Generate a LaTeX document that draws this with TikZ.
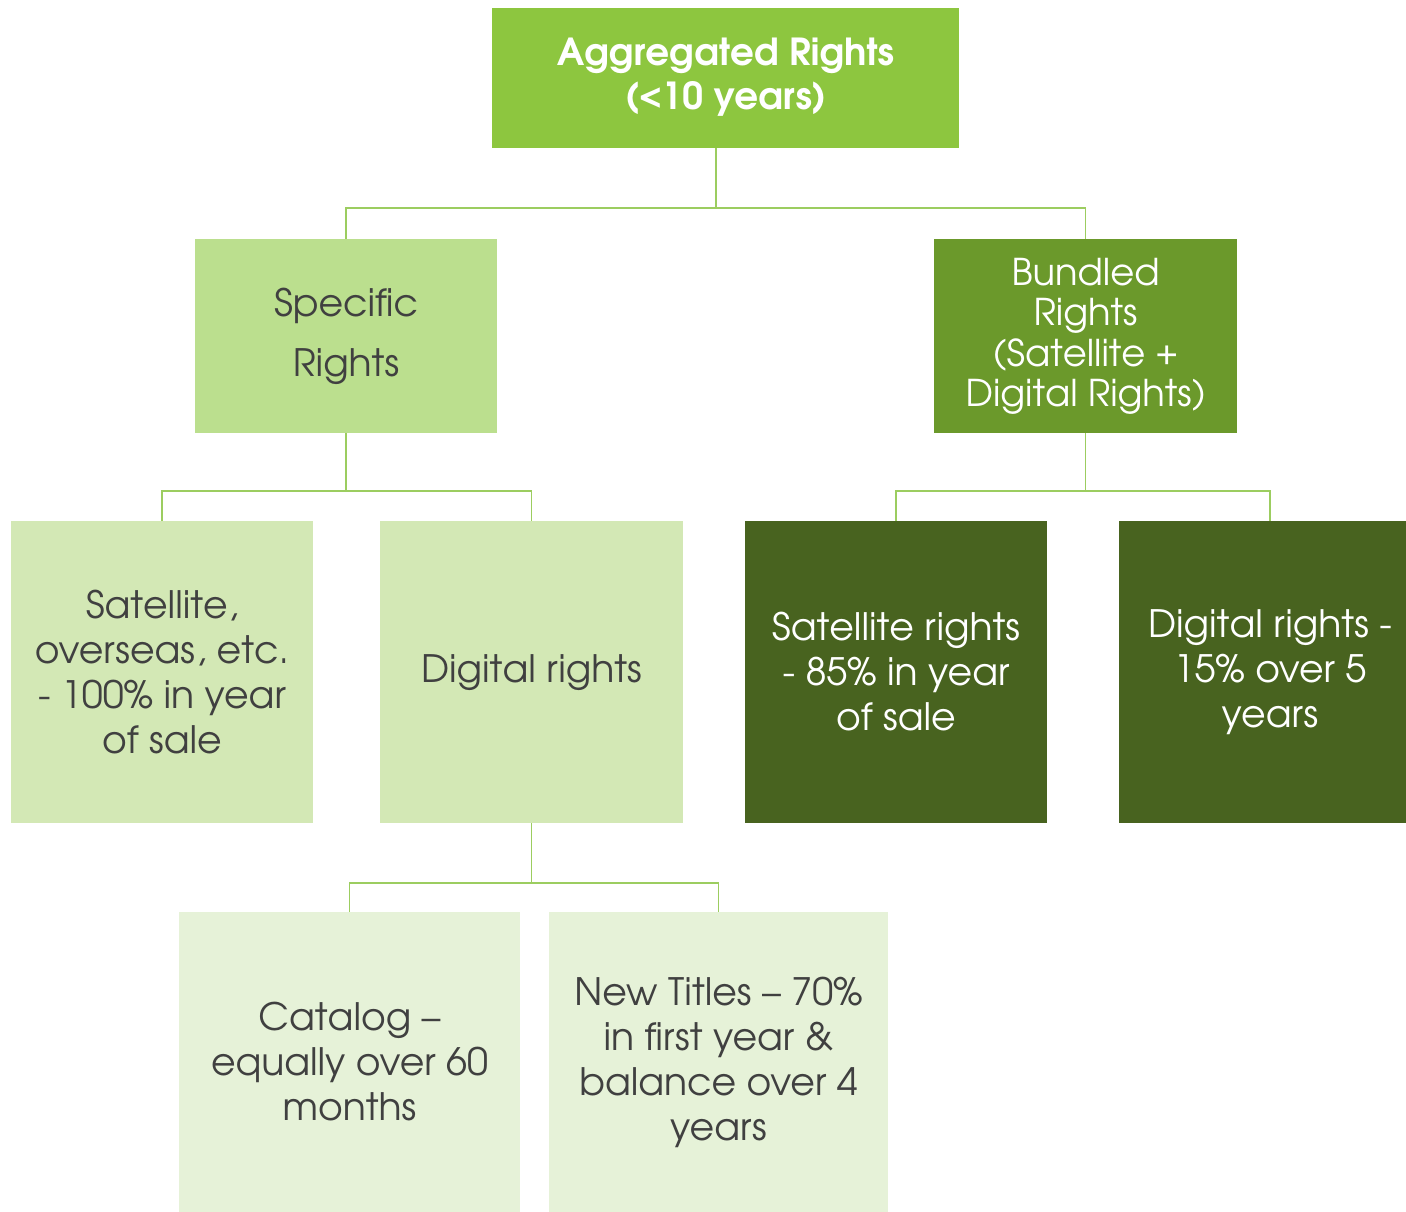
\documentclass[tikz,border=0pt]{standalone}
\usepackage[T1]{fontenc}
\usepackage{avant}
\renewcommand{\familydefault}{\sfdefault}
\usepackage{xcolor}
\usepackage{tikz}
\usetikzlibrary{calc}
\definecolor{aggrgreen}{HTML}{8DC63F}
\definecolor{specgreen}{HTML}{BBDF8E}
\definecolor{bundgreen}{HTML}{6B992B}
\definecolor{leafgreen}{HTML}{D3E8B5}
\definecolor{darkgreen}{HTML}{48631F}
\definecolor{palegreen}{HTML}{E6F2D8}
\definecolor{linkgreen}{HTML}{9CCD60}
\definecolor{inkgray}{HTML}{404040}
\tikzset{boxtext/.style={font=\fontsize{21.5}{25.6}\selectfont}}

\begin{document}
\begin{tikzpicture} [x=0.02cm, y=-0.02cm,
  rbox/.style={rectangle, inner sep=0, align=center, text=inkgray, boxtext},
  link/.style={linkgreen, line width=1.1pt}]
\clip (0,0) rectangle (1406,1211);
\node[rbox, fill=aggrgreen, text=white, minimum width=9.34cm, minimum height=2.8cm,
  font=\fontsize{21.2}{25}\selectfont\bfseries] (aggr) at (725.5,78) {Aggregated Rights\\(<10 years)};
\node[rbox, fill=specgreen, minimum width=6.04cm, minimum height=3.88cm,
  font=\fontsize{21.5}{34}\selectfont] (spec) at (346,336) {Specific\\Rights};
\node[rbox, fill=bundgreen, text=white, minimum width=6.06cm, minimum height=3.88cm,
  font=\fontsize{21}{23.1}\selectfont] (bund) at (1085.5,336) {Bundled\\Rights\\(Satellite +\\Digital Rights)};
\node[rbox, fill=leafgreen, minimum width=6.04cm, minimum height=6.04cm] (sat) at (162,672)
  {Satellite,\\overseas, etc.\\- 100\% in year\\of sale};
\node[rbox, fill=leafgreen, minimum width=6.06cm, minimum height=6.04cm] (dig) at (531.5,672) {Digital rights};
\node[rbox, fill=darkgreen, text=white, minimum width=6.04cm, minimum height=6.04cm] (satr) at (896,672)
  {Satellite rights\\- 85\% in year\\of sale};
\node[rbox, fill=darkgreen, text=white, minimum width=6.04cm, minimum height=6.04cm] (digr) at (1270,672)
  {Digital rights -\\15\% over 5\\years};
\node[rbox, fill=palegreen, minimum width=6.84cm, minimum height=6.0cm] (cat) at (349.5,1062)
  {Catalog --\\equally over 60\\months};
\node[rbox, fill=palegreen, minimum width=6.8cm, minimum height=6.0cm] (newt) at (718.5,1062)
  {New Titles -- 70\%\\in first year \&\\balance over 4\\years};
\draw[link] (spec.north) -- ++(0,-31) coordinate (j1) -| (bund.north);
\draw[link] (aggr.south -| 716,0) -- (716,208);
\draw[link] (sat.north) -- ++(0,-30) -| (dig.north);
\draw[link] (spec.south) -- ++(0,58);
\draw[link] (satr.north) -- ++(0,-30) -| (digr.north);
\draw[link] (bund.south) -- ++(0,58);
\draw[link] (cat.north) -- ++(0,-29) -| (newt.north);
\draw[link] (dig.south) -- ++(0,60);
\end{tikzpicture}
\end{document}
